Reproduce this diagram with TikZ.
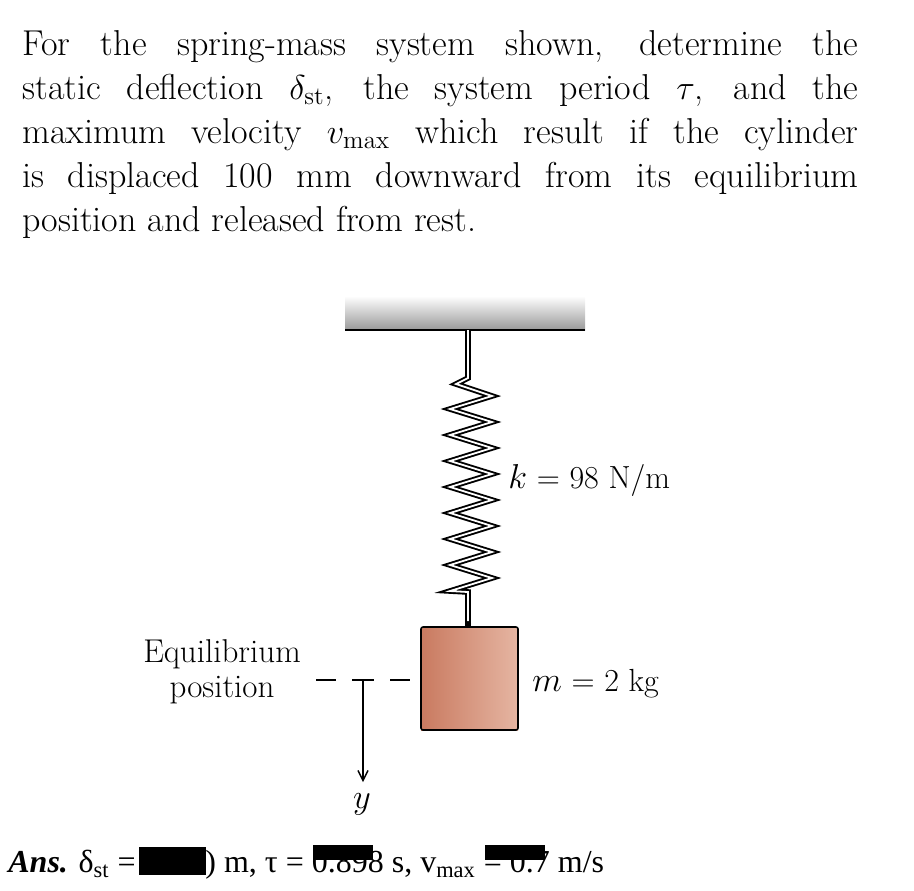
\documentclass[tikz,border=0pt]{standalone}
\usepackage{fontspec}
\usetikzlibrary{arrows.meta}
\newfontfamily\timesf{Liberation Serif}
\definecolor{massL}{RGB}{201,122,96}
\definecolor{massR}{RGB}{229,181,162}
\begin{document}
\begin{tikzpicture}[x=0.5pt,y=-0.5pt,
  lbl/.style={inner sep=0pt,font=\fontsize{16}{18}\selectfont},
  ansf/.style={anchor=base west,inner sep=0pt,font=\timesf\fontsize{16}{18}\selectfont},
  blk/.style={fill=black,draw=none}]
\useasboundingbox (0,0) rectangle (914,890);
% problem text
\node[anchor=north west,inner sep=0pt,text width=418pt,align=justify,
  font=\fontsize{18}{22}\selectfont\bfseries\mdseries] (txt) at (22,30)
 {For the spring-mass system shown, determine the\linebreak
  static deflection $\delta_{\mathrm{st}}$, the system period $\tau$, and the\linebreak
  maximum velocity $v_{\mathrm{max}}$ which result if the cylinder\linebreak
  is displaced 100 mm downward from its equilibrium\linebreak
  position and released from rest.};
% ceiling
\shade[top color=white,bottom color=black!40] (345,296) rectangle (585,330);
\draw[line width=1pt] (345,330) -- (585,330);
% spring
\def\sp{(468,330) -- (468,378) -- (456,384)
  \foreach \i in {0,...,7}{ -- (492,{396+\i*26}) -- (450,{409+\i*26}) }
  -- (468,592) -- (468,628)}
\draw[line width=2.8pt,black] \sp;
\draw[line width=0.9pt,white] \sp;
% mass
\shade[left color=massL,right color=massR] (421,627) rectangle (518,730);
\node[draw,line width=0.8pt,rounded corners=1pt,minimum width=48.5pt,minimum height=51.5pt,inner sep=0pt] (mass) at (469.5,678.5) {};
\fill (468,624) circle (3);
% labels
\node[lbl,anchor=west] (k) at (508,480) {$k$ = 98 N/m};
\node[lbl,anchor=west] (m) at (532,684) {$m$ = 2 kg};
\node[lbl,align=center,anchor=center,font=\fontsize{16.5}{17.5}\selectfont] (eq) at (222,672) {Equilibrium\\position};
% equilibrium line and y axis
\draw[line width=0.7pt] (316,680) -- (336,680) (352,680) -- (374,680) (390,680) -- (410,680);
\coordinate (ytop) at (363,680);
\coordinate (ybot) at (363,782);
\draw[line width=0.7pt,-{Straight Barb[length=5pt,width=5pt]}] (ytop) -- (ybot);
\node[lbl] (y) at (362,804) {$y$};
% answer
\node[ansf] (a1) at (8,872) {\textbf{\textit{Ans.}} δ\textsubscript{st} =};
\node[ansf] (a2) at (205,872) {) m, τ = 0.898 s, v\textsubscript{max} = 0.7 m/s};
\fill[blk] (139,847) rectangle (206,875);
\fill[blk] (313,845) rectangle (373,860);
\fill[blk] (485,845) rectangle (545,860);
\end{tikzpicture}
\end{document}
